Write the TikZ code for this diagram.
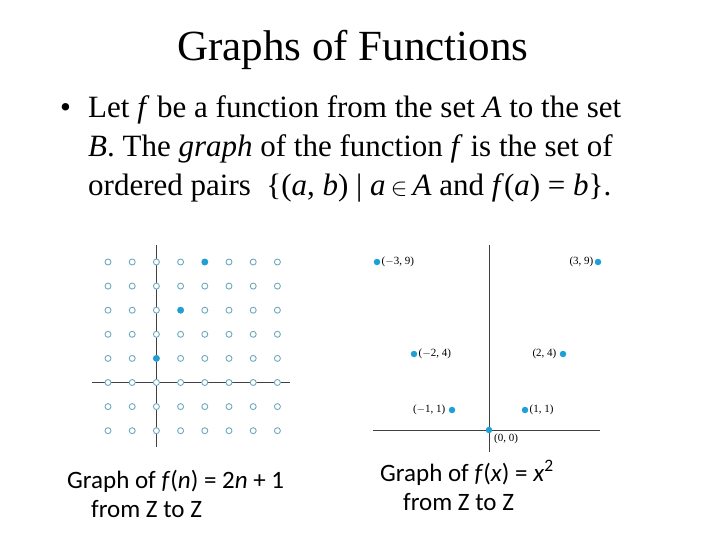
\documentclass[tikz,border=0pt]{standalone}
\usepackage{fontspec}
\setmainfont{Liberation Serif}
\newfontfamily\capf{Carlito}
\definecolor{dotc}{RGB}{30,160,215}
\definecolor{ringc}{RGB}{110,170,190}
\begin{document}
\begin{tikzpicture}[x=1pt,y=-1pt,
  ring/.style={circle,draw=ringc,line width=0.9pt,fill=white,inner sep=0pt,minimum size=6pt},
  fdot/.style={circle,fill=dotc,inner sep=0pt,minimum size=6.5pt},
  axis/.style={draw=black!75,line width=0.9pt},
  lab/.style={font=\fontsize{11}{13}\selectfont,inner sep=1pt},
  body/.style={font=\fontsize{31}{36}\selectfont,anchor=base west,inner sep=0pt},
  captxt/.style={font=\capf\fontsize{25}{29}\selectfont,anchor=base west,inner sep=0pt}]
\useasboundingbox (0,0) rectangle (720,540);
\node[font=\fontsize{43}{48}\selectfont] (title) at (353,50) {Graphs of Functions};
\node[body] (bul) at (60,118) {•};
\node[body] (l1) at (88,118) {Let \textit{f} be a function from the set \textit{A} to the set};
\node[body] (l2) at (88,157) {\textit{B}. The \textit{graph} of the function \textit{f} is the set of};
\node[body] (l3) at (88,196) {ordered pairs \ \{(\textit{a}, \textit{b}) | \textit{a}\,$\in$\,\textit{A} and \textit{f}(\textit{a}) = \textit{b}\}.};
% left grid
\coordinate (lt) at (156,245); \coordinate (lb) at (156,447);
\coordinate (ll) at (92,382); \coordinate (lr) at (290,382);
\draw[axis] (lt) -- (lb); \draw[axis] (ll) -- (lr);
\foreach \i in {0,...,7}{\foreach \j in {0,...,7}{
  \node[ring] (g\i\j) at (108+24.2*\i,262+24.1*\j) {};}}
\node[fdot] (p0) at (g24) {};
\node[fdot] (p1) at (g32) {};
\node[fdot] (p2) at (g40) {};
\node[captxt] (c1) at (67,488) {Graph of \textit{f}(\textit{n}) = 2\textit{n} + 1};
\node[captxt] (c2) at (91,517) {from Z to Z};
% right plot
\coordinate (rt) at (489,245); \coordinate (rb) at (489,452);
\coordinate (rl) at (373,430); \coordinate (rr) at (600,430);
\draw[axis] (rt) -- (rb); \draw[axis] (rl) -- (rr);
\node[fdot] (q0) at (489,430) {};
\node[fdot] (q1) at (525,410) {};
\node[fdot] (qm1) at (452,410) {};
\node[fdot] (q2) at (563,354) {};
\node[fdot] (qm2) at (414,354) {};
\node[fdot] (q3) at (598,262) {};
\node[fdot] (qm3) at (377,262) {};
\node[lab,anchor=west] at (qm3.east) {($-$3, 9)};
\node[lab,anchor=east] at (q3.west) {(3, 9)};
\node[lab,anchor=west] at (qm2.east) {($-$2, 4)};
\node[lab,anchor=east] at ([xshift=-2pt]q2.west) {(2, 4)};
\node[lab,anchor=east] at ([xshift=-2pt]qm1.west) {($-$1, 1)};
\node[lab,anchor=west] at (q1.east) {(1, 1)};
\node[lab,anchor=north west] at (493,433) {(0, 0)};
\node[captxt] (d1) at (380,481) {Graph of \textit{f}(\textit{x}) = \textit{x}\textsuperscript{2}};
\node[captxt] (d2) at (403,510) {from Z to Z};
\end{tikzpicture}
\end{document}
